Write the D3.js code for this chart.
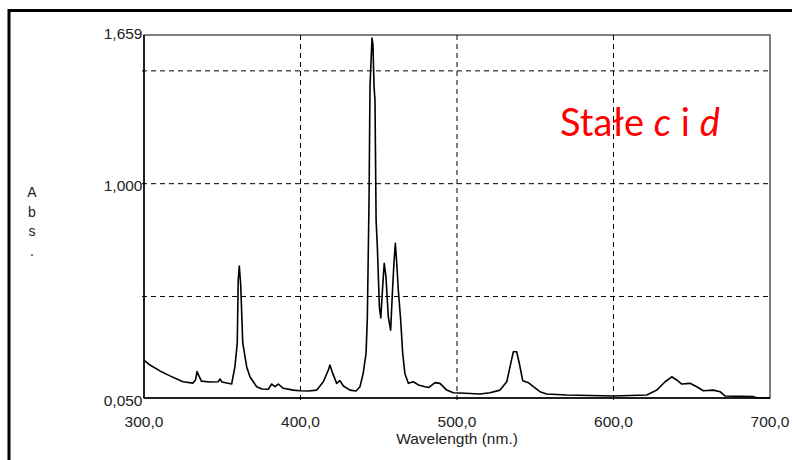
<!DOCTYPE html>
<html><head><meta charset="utf-8">
<script src="https://cdn.jsdelivr.net/npm/d3@7"></script>
<style>html,body{margin:0;padding:0;background:#fff;}svg{display:block;}</style>
</head><body>
<svg id="c" width="792" height="460"></svg>
<script>
const wavelength = [300.0,303.8,310.2,316.6,324.9,331.3,332.9,333.9,335.1,336.7,342.2,347.3,348.6,349.8,356.0,358.1,359.6,360.2,360.9,361.8,363.1,365.6,367.7,372.0,375.4,379.4,381.6,383.7,385.8,389.0,395.4,399.7,405.0,410.4,414.6,417.8,418.8,420.6,423.1,425.2,427.4,431.6,435.5,438.0,440.1,441.9,442.7,443.8,444.4,445.7,446.3,447.0,447.6,448.3,449.1,450.4,451.3,452.5,453.5,454.6,456.1,457.6,458.9,459.7,460.6,461.5,462.5,464.0,465.3,466.7,468.9,472.1,475.3,479.6,482.0,486.0,489.1,493.4,497.6,505.1,514.7,521.1,527.5,531.8,533.9,536.0,538.1,539.8,542.0,545.6,548.8,553.0,557.3,570.1,599.7,621.2,627.6,633.0,637.2,640.4,643.6,648.9,653.2,657.4,663.8,668.1,671.2,689.3,691.5,700.0];
const absorbance = [0.218,0.196,0.170,0.148,0.122,0.116,0.130,0.167,0.148,0.125,0.121,0.122,0.134,0.121,0.112,0.189,0.294,0.573,0.635,0.551,0.294,0.189,0.144,0.100,0.090,0.089,0.112,0.100,0.112,0.093,0.085,0.082,0.081,0.085,0.122,0.174,0.196,0.159,0.115,0.127,0.103,0.085,0.081,0.100,0.161,0.249,0.405,0.928,1.429,1.646,1.615,1.429,1.371,0.839,0.721,0.455,0.405,0.543,0.647,0.588,0.410,0.351,0.543,0.647,0.736,0.647,0.529,0.396,0.248,0.159,0.115,0.122,0.108,0.100,0.097,0.118,0.115,0.085,0.073,0.071,0.068,0.073,0.085,0.122,0.189,0.255,0.255,0.204,0.127,0.118,0.100,0.078,0.068,0.063,0.059,0.063,0.085,0.122,0.144,0.130,0.112,0.115,0.100,0.082,0.085,0.078,0.059,0.056,0.051,0.051];
const xTicks = [300, 400, 500, 600, 700];
const xGrid = [400, 500, 600];
const yLabels = [0.05, 1.0, 1.659];
const yGrid = [0.5, 1.0, 1.5];
const xTitle = "Wavelength (nm.)";
const yTitle = ["A", "b", "s", "."];

const svg = d3.select("#c");
const loc = d3.formatLocale({decimal: ",", thousands: ".", grouping: [3], currency: ["", ""]});
const fx = loc.format(".1f"), fy = loc.format(".3f");

const x = d3.scaleLinear().domain([300, 700]).range([144, 770]);
const y = d3.scaleLinear().domain([0.05, 1.659]).range([398, 35]);

// outer frame
svg.append("path").attr("d", "M9,462 L9,10.5 L795,10.5")
  .attr("fill", "none").attr("stroke", "#000").attr("stroke-width", 3);

// plot box (top/right gray)
svg.append("rect").attr("x", x(300)).attr("y", y(1.659))
  .attr("width", x(700) - x(300)).attr("height", y(0.05) - y(1.659))
  .attr("fill", "none").attr("stroke", "#555").attr("stroke-width", 1.5);

// grid
svg.append("g").selectAll("line").data(xGrid).join("line")
  .attr("x1", d => x(d)).attr("x2", d => x(d)).attr("y1", y(1.659)).attr("y2", y(0.05) + 3)
  .attr("stroke", "#000").attr("stroke-width", 1).attr("stroke-dasharray", "5,4");
svg.append("g").selectAll("line").data(yGrid).join("line")
  .attr("x1", x(300) - 2).attr("x2", x(700)).attr("y1", d => y(d)).attr("y2", d => y(d))
  .attr("stroke", "#000").attr("stroke-width", 1).attr("stroke-dasharray", "5,4");

// axes lines
svg.append("line").attr("x1", x(300)).attr("x2", x(300)).attr("y1", y(1.659)).attr("y2", y(0.05))
  .attr("stroke", "#000").attr("stroke-width", 1.5);
svg.append("line").attr("x1", x(300)).attr("x2", x(700)).attr("y1", y(0.05)).attr("y2", y(0.05))
  .attr("stroke", "#000").attr("stroke-width", 1.5);

// spectrum
const data = wavelength.map((w, i) => [w, absorbance[i]]);
svg.append("path").datum(data)
  .attr("d", d3.line().x(d => x(d[0])).y(d => y(d[1])))
  .attr("fill", "none").attr("stroke", "#000").attr("stroke-width", 1.6).attr("stroke-linejoin", "round");

const font = "'Liberation Sans', Arial, sans-serif";
// x tick labels
svg.append("g").selectAll("text").data(xTicks).join("text")
  .attr("x", d => x(d)).attr("y", 427).attr("text-anchor", "middle")
  .attr("font-family", font).attr("font-size", 15.5).attr("fill", "#222").text(d => fx(d));
svg.append("text").attr("x", x(500)).attr("y", 444).attr("text-anchor", "middle")
  .attr("font-family", font).attr("font-size", 15.5).attr("fill", "#222").text(xTitle);

// y tick labels
svg.append("g").selectAll("text").data(yLabels).join("text")
  .attr("x", x(300) - 1.5).attr("y", d => y(d) + (d === 1.659 ? 3.5 : 7.5)).attr("text-anchor", "end")
  .attr("font-family", font).attr("font-size", 15.5).attr("fill", "#222").text(d => fy(d));

// y title vertical letters
svg.append("g").selectAll("text").data(yTitle).join("text")
  .attr("x", 32).attr("y", (d, i) => 197 + i * 19.5).attr("text-anchor", "middle")
  .attr("font-family", font).attr("font-size", 14).attr("fill", "#222").text(d => d);

// annotation
const ann = svg.append("text").attr("x", 560).attr("y", 136)
  .attr("font-family", "Lato, 'Open Sans', sans-serif").attr("font-size", 38).attr("fill", "#ff0000");
ann.append("tspan").text("Stałe ");
ann.append("tspan").attr("font-style", "italic").text("c");
ann.append("tspan").text(" i ");
ann.append("tspan").attr("font-style", "italic").text("d");
</script>
</body></html>
